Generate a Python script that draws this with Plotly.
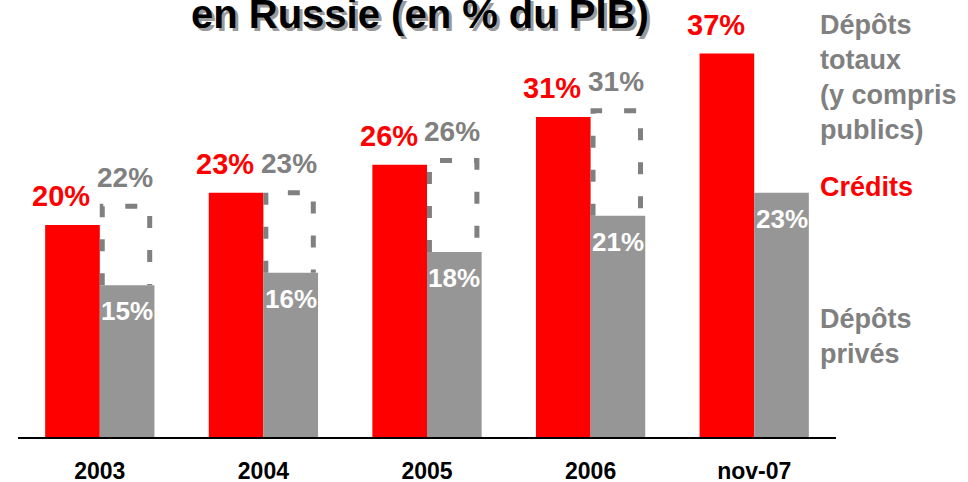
import plotly.graph_objects as go

years = ["2003", "2004", "2005", "2006", "nov-07"]
credits = [20.4, 23.5, 26.2, 30.8, 36.9]
depots_prives = [14.6, 15.8, 17.8, 21.3, 23.5]
depots_totaux = [22.2, 23.5, 26.6, 31.4]
credits_labels = ["20%", "23%", "26%", "31%", "37%"]
prives_labels = ["15%", "16%", "18%", "21%", "23%"]
totaux_labels = ["22%", "23%", "26%", "31%"]

RED = "#FF0000"
GREY_BAR = "#969696"
GREY_TXT = "#808080"
FONT = "Liberation Sans, Arial, sans-serif"
W = 0.334
xs = list(range(len(years)))

fig = go.Figure()
fig.add_trace(go.Bar(x=xs, y=credits, width=W, offset=-W,
                     marker=dict(color=RED, line=dict(width=0)), hoverinfo="skip"))
fig.add_trace(go.Bar(x=xs, y=depots_prives, width=W, offset=0,
                     marker=dict(color=GREY_BAR, line=dict(width=0)), hoverinfo="skip"))

# dashed outline for total deposits
dx, dy = [], []
for i, (p, t) in enumerate(zip(depots_prives, depots_totaux)):
    a, b = i + 0.015, i + 0.305
    dx += [a, a, b, b, None]
    dy += [p, t, t, p, None]
fig.add_trace(go.Scatter(x=dx, y=dy, mode="lines",
                         line=dict(color=GREY_TXT, width=5, dash="12px,22px"),
                         hoverinfo="skip"))

ann = []
for i, (v, lab) in enumerate(zip(credits, credits_labels)):
    ann.append(dict(x=i - W / 2, y=v, xref="x", yref="y", text="<b>%s</b>" % lab,
                    showarrow=False, xshift=-11, yshift=29, yanchor="middle",
                    font=dict(family=FONT, size=29, color=RED)))
for i, (v, lab) in enumerate(zip(depots_totaux, totaux_labels)):
    ann.append(dict(x=i + W / 2, y=v, xref="x", yref="y", text="<b>%s</b>" % lab,
                    showarrow=False, xshift=-2, yshift=29, yanchor="middle",
                    font=dict(family=FONT, size=28, color=GREY_TXT)))
for i, (v, lab) in enumerate(zip(depots_prives, prives_labels)):
    ann.append(dict(x=i + W / 2, y=v, xref="x", yref="y", text="<b>%s</b>" % lab,
                    showarrow=False, yshift=-26, yanchor="middle",
                    font=dict(family=FONT, size=26, color="white")))

# title (its top is cut in the original slide) with shadow
for col, sx, sy in [("#9a9a9a", 3, -3), ("black", 0, 0)]:
    ann.append(dict(x=0.491, y=1, xref="paper", yref="paper", text="<b>en Russie (en % du PIB)</b>",
                    showarrow=False, xanchor="center", yanchor="bottom", xshift=sx, yshift=-27 + sy,
                    font=dict(family=FONT, size=40, color=col)))

# right-side legend texts
ann.append(dict(x=0.978, y=0.845, xref="paper", yref="paper", xanchor="left", yanchor="middle",
                align="left", showarrow=False,
                text="<b>Dépôts<br>totaux<br>(y compris<br>publics)</b>",
                font=dict(family=FONT, size=27, color=GREY_TXT)))
ann.append(dict(x=0.978, y=0.587, xref="paper", yref="paper", xanchor="left", yanchor="middle",
                align="left", showarrow=False, text="<b>Crédits</b>",
                font=dict(family=FONT, size=27, color=RED)))
ann.append(dict(x=0.978, y=0.235, xref="paper", yref="paper", xanchor="left", yanchor="middle",
                align="left", showarrow=False, text="<b>Dépôts<br>privés</b>",
                font=dict(family=FONT, size=27, color=GREY_TXT)))

fig.update_layout(
    width=968, height=482,
    margin=dict(l=18, r=132, t=11, b=45, autoexpand=False),
    paper_bgcolor="white", plot_bgcolor="white",
    barmode="overlay", showlegend=False,
    annotations=ann,
    shapes=[dict(type="line", xref="paper", x0=0, x1=1.0, yref="y", ysizemode="pixel",
                 yanchor=0, y0=-2.5, y1=-2.5, line=dict(color="#c8c8c8", width=2), layer="below")],
    xaxis=dict(range=[-0.5, 4.5], tickvals=xs, ticktext=["<b>%s</b>" % y for y in years],
               showgrid=False, zeroline=False, showline=True, linecolor="black", linewidth=2,
               ticks="", ticklabelstandoff=12, automargin=False,
               tickfont=dict(family=FONT, size=23, color="black"), fixedrange=True),
    yaxis=dict(range=[0, 41], visible=False, fixedrange=True, automargin=False),
)

fig.write_html("out.html", config={"displayModeBar": False},
               post_script="document.body.style.margin='0px';document.body.style.overflow='hidden';")
